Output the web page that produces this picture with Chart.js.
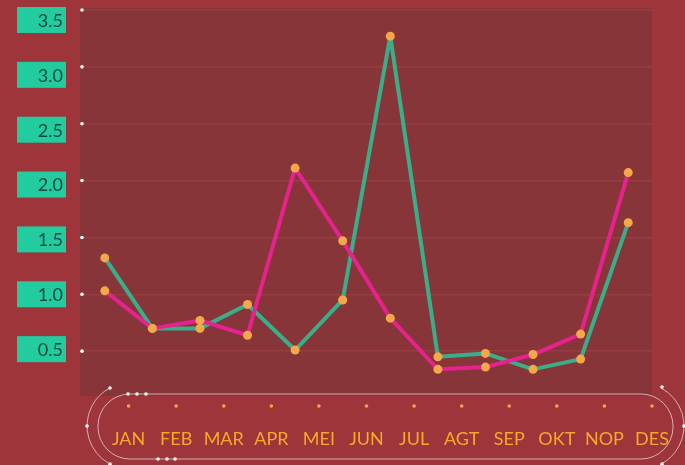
<!DOCTYPE html>
<html>
<head>
<meta charset="utf-8">
<script src="https://cdn.jsdelivr.net/npm/chart.js@4.4.0/dist/chart.umd.min.js"></script>
<style>
  html, body { margin: 0; padding: 0; background: #9d353b; }
</style>
</head>
<body>
<canvas id="chart" width="685" height="465"></canvas>
<script>
const months = ['JAN', 'FEB', 'MAR', 'APR', 'MEI', 'JUN', 'JUL', 'AGT', 'SEP', 'OKT', 'NOP', 'DES'];
const greenValues = [1.32, 0.70, 0.70, 0.91, 0.51, 0.95, 3.27, 0.45, 0.48, 0.34, 0.43, 1.63];
const pinkValues = [1.03, 0.70, 0.77, 0.64, 2.11, 1.47, 0.79, 0.34, 0.36, 0.47, 0.65, 2.07];
const yTicks = [0.5, 1.0, 1.5, 2.0, 2.5, 3.0, 3.5];

const BG = '#9d353b';
const PANEL = '#873539';
const TEAL_BOX = '#22cc9e';
const ORANGE = '#f5a84a';

// posição da caixa do rótulo: as caixas ficam um pouco mais juntas que as marcas
function boxCenter(scale, v) {
  const p0 = scale.getPixelForValue(yTicks[0]);
  return p0 - 2 + (scale.getPixelForValue(v) - p0) * 55 / 57;
}

const decor = {
  id: 'decor',
  beforeDraw(chart) {
    const { ctx, chartArea: a } = chart;
    ctx.save();
    ctx.fillStyle = BG;
    ctx.fillRect(0, 0, chart.width, chart.height);
    ctx.fillStyle = PANEL;
    ctx.fillRect(a.left - 1, a.top - 2, a.width + 1, a.bottom - a.top - 10);
    ctx.restore();
  },
  afterDraw(chart) {
    const { ctx, chartArea: a } = chart;
    const y = chart.scales.y;
    const x2 = chart.scales.x2;
    ctx.save();
    // rótulos do eixo y em caixas verdes
    ctx.font = '18px Lato';
    ctx.textAlign = 'right';
    ctx.textBaseline = 'middle';
    yTicks.forEach((v) => {
      const cy = boxCenter(y, v);
      ctx.fillStyle = TEAL_BOX;
      ctx.fillRect(17, cy - 13, 49, 26);
      ctx.fillStyle = '#0e4a40';
      ctx.fillText(v.toFixed(1), 63, cy + 1);
    });
    // pontinhos brancos do eixo y
    ctx.fillStyle = '#ffffff';
    yTicks.forEach((v) => {
      ctx.beginPath();
      ctx.arc(a.left + 1, y.getPixelForValue(v), 1.8, 0, Math.PI * 2);
      ctx.fill();
    });
    // pontinhos laranja acima dos meses
    ctx.fillStyle = ORANGE;
    x2.ticks.forEach((t, i) => {
      if (t.value < 1) return;
      ctx.beginPath();
      ctx.arc(x2.getPixelForTick(i), a.bottom - 2, 1.8, 0, Math.PI * 2);
      ctx.fill();
    });
    // moldura arredondada dos meses
    ctx.strokeStyle = 'rgba(255,255,255,0.6)';
    ctx.lineWidth = 1;
    ctx.beginPath();
    ctx.roundRect(98, 394, 575, 65, 32);
    ctx.stroke();
    ctx.beginPath();
    ctx.arc(130, 426, 43, 2.06, 4.23);
    ctx.stroke();
    ctx.beginPath();
    ctx.arc(641, 426, 43, -1.08, 1.08);
    ctx.stroke();
    ctx.fillStyle = '#ffffff';
    [[110, 388], [87, 426], [110, 464], [662, 387], [684, 426], [662, 464],
     [128, 394], [137, 394], [146, 394], [158, 459], [167, 459], [175, 459]].forEach(([px, py]) => {
      ctx.beginPath();
      ctx.arc(px, py, 1.8, 0, Math.PI * 2);
      ctx.fill();
    });
    ctx.restore();
  }
};

const lineStyle = {
  borderWidth: 4,
  borderJoinStyle: 'round',
  borderCapStyle: 'round',
  pointBackgroundColor: ORANGE,
  pointBorderWidth: 0,
  pointRadius: 4.5,
  tension: 0,
  xAxisID: 'x',
  yAxisID: 'y'
};

const chart = new Chart(document.getElementById('chart'), {
  type: 'line',
  data: {
    labels: months,
    datasets: [
      { ...lineStyle, label: 'B', data: pinkValues, borderColor: '#e5228e' },
      { ...lineStyle, label: 'A', data: greenValues, borderColor: '#3aae88' }
    ]
  },
  options: {
    responsive: false,
    devicePixelRatio: 1,
    animation: false,
    layout: { autoPadding: false, padding: { top: 10, right: 33, left: 0, bottom: 0 } },
    plugins: {
      legend: { display: false },
      tooltip: { enabled: false }
    },
    scales: {
      x: {
        type: 'category',
        offset: true,
        display: false
      },
      x2: {
        type: 'linear',
        position: 'bottom',
        min: 0,
        max: 12,
        grid: { display: false },
        border: { display: false },
        afterFit(s) { s.height = 57; },
        ticks: {
          stepSize: 1,
          autoSkip: false,
          maxRotation: 0,
          padding: 12,
          color: '#f7a82a',
          font: { family: 'Lato', size: 18 },
          callback: (v) => months[v - 1] || ''
        }
      },
      y: {
        min: 0,
        max: 3.5,
        afterFit(s) { s.width = 81; s.paddingTop = 0; s.paddingBottom = 0; },
        border: { display: false },
        grid: {
          drawTicks: false,
          lineWidth: 1.5,
          color: (c) => (c.tick && c.tick.value === 0 ? 'transparent' : 'rgba(190,80,85,0.3)')
        },
        ticks: {
          stepSize: 0.5,
          display: false
        }
      }
    }
  },
  plugins: [decor]
});
</script>
</body>
</html>
